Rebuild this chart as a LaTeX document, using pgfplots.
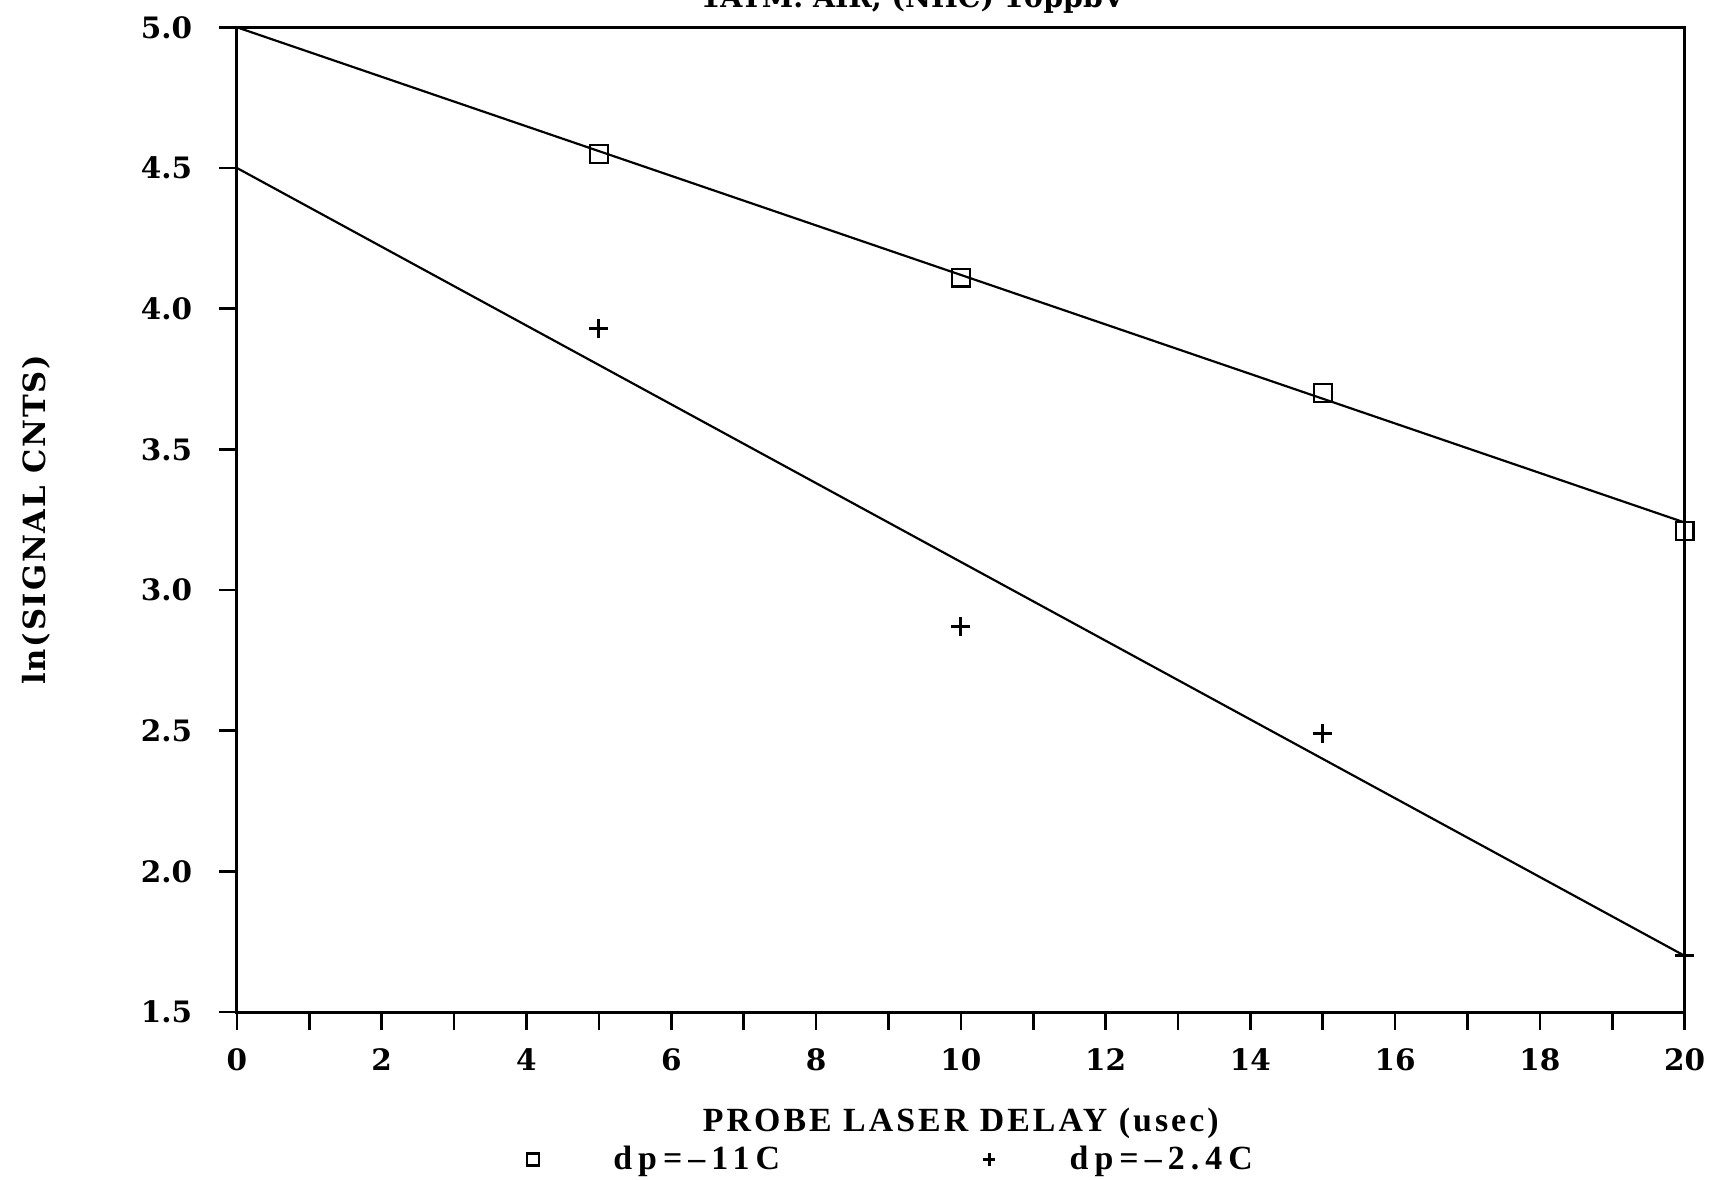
\documentclass[border=0pt]{standalone}
\usepackage{fontspec}
\setmainfont{DejaVu Serif}
\newfontfamily\libserif[LetterSpace=9]{Liberation Serif}
\newfontfamily\legserif[LetterSpace=18]{Liberation Serif}
\newfontfamily\dvsp[LetterSpace=6]{DejaVu Serif}
\usepackage{pgfplots}
\pgfplotsset{compat=1.18}
\begin{document}
\begin{tikzpicture}
\begin{axis}[
  scale only axis, width=663pt, height=451pt,
  xmin=0, xmax=20, ymin=1.5, ymax=5.0,
  xtick={0,2,...,20}, minor x tick num=1,
  ytick={1.5,2.0,2.5,3.0,3.5,4.0,4.5,5.0},
  yticklabel style={/pgf/number format/fixed, /pgf/number format/fixed zerofill, /pgf/number format/precision=1, xshift=-9pt},
  xticklabel style={yshift=-5pt},
  xtick pos=bottom, ytick pos=left,
  tick align=outside,
  major tick length=8pt, minor tick length=8pt,
  every tick/.style={black, line width=1.2pt},
  axis line style={line width=1.4pt},
  /pgf/number format/assume math mode=true,
  ticklabel style={font=\bfseries\fontsize{13.5}{13.5}\selectfont},
  clip=false,
  ylabel={ln(SIGNAL CNTS)},
  ylabel style={font=\dvsp\bfseries\fontsize{14}{14}\selectfont, at={(axis description cs:-0.1388,0.5)}, anchor=center},
  xlabel={PROBE LASER DELAY (usec)},
  xlabel style={font=\libserif\bfseries\fontsize{15.5}{15.5}\selectfont, at={(axis description cs:0.5,-0.1131)}, anchor=center},
  legend columns=2,
  legend image code/.code={\draw[mark repeat=2,mark phase=2,#1,mark size=2.8pt] plot coordinates {(0pt,0pt) (10pt,0pt) (20pt,0pt)};},
  legend style={draw=none, fill=none, inner sep=0pt, at={(axis description cs:0.1999,-0.1497)}, anchor=west,
    font=\legserif\bfseries\fontsize{15.5}{15.5}\selectfont,
    /tikz/every odd column/.append style={column sep=32pt},
    /tikz/every even column/.append style={column sep=91pt}},
]
\addplot[forget plot, no markers, line width=1pt] coordinates {(0,5.0) (20,3.24)};
\addplot[forget plot, no markers, line width=1pt] coordinates {(0,4.5) (20,1.70)};
\addplot[only marks, mark=square, mark size=4.1pt, mark options={line width=1.1pt}] coordinates {(5,4.55) (10,4.11) (15,3.70) (20,3.21)};
\addlegendentry{dp=–11C}
\addplot[only marks, mark=+, mark size=4.4pt, mark options={line width=1.3pt}] coordinates {(5,3.93) (10,2.87) (15,2.49) (20,1.70)};
\addlegendentry{dp=–2.4C}
\node[font=\bfseries\fontsize{13}{13}\selectfont, anchor=base] at (axis description cs:0.4668,1.02) {1ATM. AIR, (NHC) 10ppbV};
\coordinate (SW) at (rel axis cs:0,0);
\coordinate (NE) at (rel axis cs:1,1);
\end{axis}
\pgfresetboundingbox
\path[use as bounding box] ([shift={(-108.5pt,-76.5pt)}]SW) rectangle ([shift={(12.5pt,12.5pt)}]NE);
\end{tikzpicture}
\end{document}
